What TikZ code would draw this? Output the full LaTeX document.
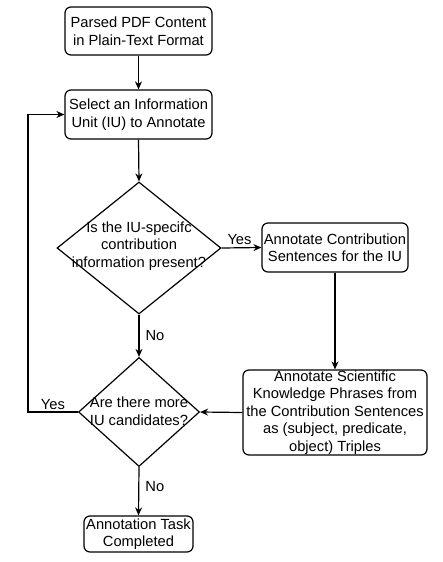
\documentclass[tikz,border=0pt]{standalone}
\usepackage{fontspec}
\setmainfont{Liberation Sans}
\usetikzlibrary{shapes.geometric,arrows.meta}
\begin{document}
\begin{tikzpicture}[x=1pt,y=-1pt,
  font=\fontsize{14.7}{17.5}\selectfont,
  box/.style={draw, rounded corners=6pt, line width=1.2pt, align=center, inner sep=0pt},
  dia/.style={draw, diamond, line width=1.2pt, inner sep=0pt},
  txt/.style={align=center, inner sep=0pt},
  arr/.style={-{Stealth[length=8pt,width=7pt]}, line width=1.2pt},
  lbl/.style={inner sep=0pt}]
\useasboundingbox (0,0) rectangle (442,562);
\node[box, minimum width=147pt, minimum height=48pt] (b1) at (138.5,31) {Parsed PDF Content\\in Plain-Text Format};
\node[box, minimum width=147pt, minimum height=49pt] (b2) at (138.5,114.5) {Select an Information\\Unit (IU) to Annotate};
\node[dia, minimum width=164pt, minimum height=132pt] (d1) at (139,248) {};
\node[txt] (t1) at (139,246) {Is the IU-specifc\\contribution\\information present?};
\node[box, minimum width=146pt, minimum height=49pt] (b3) at (335,247.5) {Annotate Contribution\\Sentences for the IU};
\node[box, minimum width=184pt, minimum height=85pt] (b4) at (335,412.5) {Annotate Scientific\\Knowledge Phrases from\\the Contribution Sentences\\as (subject, predicate,\\object) Triples};
\node[dia, minimum width=121pt, minimum height=109pt] (d2) at (139,412) {};
\node[txt] (t2) at (139,411) {Are there more\\IU candidates?};
\node[box, minimum width=109pt, minimum height=36pt] (b5) at (138.5,534) {Annotation Task\\Completed};
\coordinate (lp) at (28,412);
\draw[arr] (b1.south) -- (b2.north);
\draw[arr] (b2.south) -- (d1.north);
\draw[arr] (d1.east) -- node[lbl, above=3pt, pos=0.45] {Yes} (b3.west);
\draw[arr] (d1.south) -- node[lbl, right=6pt] {No} (d2.north);
\draw[arr] (b3.south) -- (b4.north);
\draw[arr] (b4.west) -- (d2.east);
\draw[arr] (d2.west) -- node[lbl, above=2pt, pos=0.5] {Yes} (lp) |- (b2.west);
\draw[arr] (d2.south) -- node[lbl, right=6pt, pos=0.4] {No} (b5.north);
\end{tikzpicture}
\end{document}
